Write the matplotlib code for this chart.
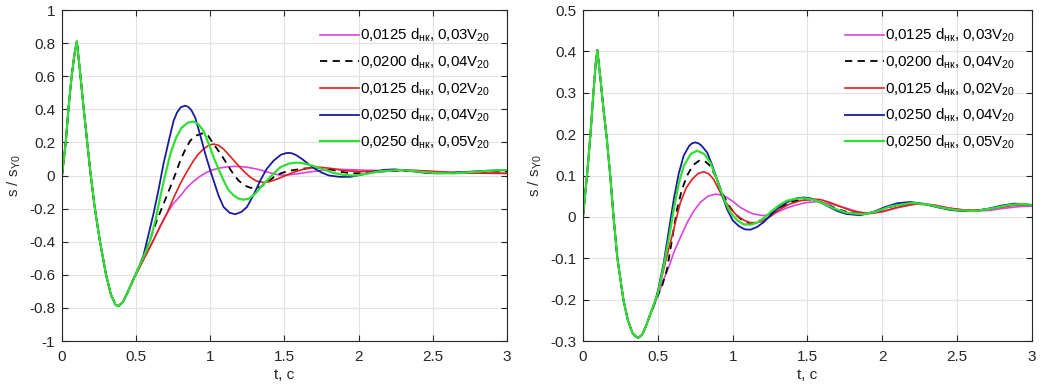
import matplotlib
matplotlib.use("Agg")
import matplotlib.pyplot as plt

plt.rcParams['font.family'] = ['Liberation Sans', 'DejaVu Sans']
plt.rcParams['mathtext.fontset'] = 'custom'
plt.rcParams['mathtext.rm'] = 'Liberation Sans'
plt.rcParams['mathtext.it'] = 'Liberation Sans:italic'
plt.rcParams['axes.unicode_minus'] = False

labels = [r'0,0125 d$_{\mathrm{нк}}$, 0,03V$_{20}$',
          r'0,0200 d$_{\mathrm{нк}}$, 0,04V$_{20}$',
          r'0,0125 d$_{\mathrm{нк}}$, 0,02V$_{20}$',
          r'0,0250 d$_{\mathrm{нк}}$, 0,04V$_{20}$',
          r'0,0250 d$_{\mathrm{нк}}$, 0,05V$_{20}$']

# ---- left panel: common start (t, s/sY0)
tA0 = [0, 0.025, 0.043, 0.065, 0.085, 0.1, 0.12, 0.15, 0.19, 0.22, 0.256, 0.297, 0.33, 0.36, 0.38, 0.41, 0.44, 0.48]
yA0 = [0, 0.2, 0.4, 0.6, 0.74, 0.81, 0.64, 0.37, 0.03, -0.19, -0.4, -0.6, -0.72, -0.78, -0.79, -0.765, -0.71, -0.63]

tA_m = [0.52, 0.56, 0.617, 0.66, 0.707, 0.75, 0.797, 0.84, 0.887, 0.93, 0.977, 1.02, 1.067, 1.11, 1.157, 1.2, 1.247, 1.29, 1.337, 1.38, 1.427, 1.46, 1.494, 1.54, 1.584, 1.66, 1.74, 1.85, 2.01, 2.15, 2.3, 2.45, 2.6, 2.75, 2.9, 3.0]
yA_m = [-0.56, -0.49, -0.39, -0.31, -0.23, -0.17, -0.125, -0.075, -0.035, -0.005, 0.02, 0.035, 0.046, 0.052, 0.055, 0.054, 0.05, 0.043, 0.034, 0.022, 0.01, 0.004, 0.002, 0.005, 0.01, 0.02, 0.03, 0.038, 0.033, 0.03, 0.029, 0.024, 0.018, 0.015, 0.013, 0.013]

tA_k = [0.52, 0.56, 0.6, 0.64, 0.685, 0.73, 0.765, 0.797, 0.83, 0.864, 0.9, 0.95, 0.985, 1.022, 1.07, 1.112, 1.15, 1.19, 1.23, 1.27, 1.31, 1.337, 1.38, 1.427, 1.48, 1.539, 1.63, 1.72, 1.8, 1.88, 1.96, 2.05, 2.15, 2.28, 2.4, 2.52, 2.64, 2.8, 2.9, 3.0]
yA_k = [-0.55, -0.47, -0.37, -0.27, -0.17, -0.07, 0.01, 0.09, 0.155, 0.21, 0.24, 0.255, 0.24, 0.19, 0.13, 0.07, 0.015, -0.03, -0.06, -0.074, -0.075, -0.07, -0.045, -0.01, 0.015, 0.03, 0.042, 0.048, 0.04, 0.022, 0.013, 0.016, 0.024, 0.029, 0.024, 0.018, 0.017, 0.021, 0.024, 0.025]

tA_r = [0.52, 0.56, 0.617, 0.66, 0.707, 0.75, 0.797, 0.84, 0.887, 0.92, 0.954, 0.99, 1.022, 1.055, 1.089, 1.13, 1.179, 1.22, 1.269, 1.31, 1.359, 1.4, 1.449, 1.5, 1.562, 1.62, 1.674, 1.74, 1.82, 1.9, 2.01, 2.15, 2.33, 2.45, 2.6, 2.75, 2.9, 3.0]
yA_r = [-0.56, -0.49, -0.39, -0.31, -0.23, -0.14, -0.05, 0.02, 0.09, 0.13, 0.16, 0.183, 0.19, 0.183, 0.16, 0.12, 0.07, 0.03, -0.01, -0.033, -0.042, -0.037, -0.022, -0.003, 0.02, 0.036, 0.046, 0.05, 0.042, 0.03, 0.023, 0.028, 0.033, 0.028, 0.02, 0.016, 0.014, 0.013]

tA_b = [0.52, 0.55, 0.585, 0.617, 0.65, 0.684, 0.72, 0.752, 0.775, 0.8, 0.83, 0.85, 0.872, 0.898, 0.93, 0.966, 1.0, 1.022, 1.055, 1.089, 1.13, 1.168, 1.21, 1.247, 1.29, 1.337, 1.38, 1.427, 1.475, 1.505, 1.528, 1.55, 1.575, 1.618, 1.66, 1.697, 1.75, 1.8, 1.87, 1.944, 2.02, 2.1, 2.17, 2.236, 2.3, 2.38, 2.45, 2.52, 2.6, 2.7, 2.8, 2.9, 3.0]
yA_b = [-0.55, -0.48, -0.35, -0.23, -0.09, 0.07, 0.21, 0.33, 0.38, 0.412, 0.422, 0.415, 0.395, 0.35, 0.25, 0.13, 0.03, -0.03, -0.12, -0.19, -0.225, -0.234, -0.22, -0.19, -0.12, -0.03, 0.04, 0.09, 0.125, 0.134, 0.137, 0.134, 0.125, 0.10, 0.07, 0.045, 0.018, 0.0, -0.008, -0.008, 0.005, 0.022, 0.034, 0.037, 0.033, 0.024, 0.016, 0.013, 0.015, 0.02, 0.026, 0.03, 0.033]

tA_g = [0.52, 0.56, 0.595, 0.63, 0.662, 0.695, 0.73, 0.77, 0.808, 0.85, 0.887, 0.92, 0.954, 0.99, 1.022, 1.055, 1.089, 1.12, 1.157, 1.19, 1.224, 1.26, 1.303, 1.34, 1.382, 1.43, 1.472, 1.53, 1.58, 1.62, 1.686, 1.75, 1.82, 1.9, 1.97, 2.05, 2.15, 2.28, 2.4, 2.52, 2.64, 2.75, 2.87, 3.0]
yA_g = [-0.55, -0.47, -0.39, -0.27, -0.13, 0.0, 0.13, 0.23, 0.29, 0.32, 0.326, 0.31, 0.27, 0.19, 0.11, 0.04, -0.03, -0.085, -0.12, -0.14, -0.146, -0.14, -0.11, -0.07, -0.03, 0.015, 0.05, 0.072, 0.078, 0.075, 0.06, 0.04, 0.018, 0.003, 0.0, 0.01, 0.026, 0.033, 0.024, 0.015, 0.013, 0.02, 0.028, 0.033]

# ---- right panel: common start
tB0 = [0, 0.027, 0.05, 0.07, 0.085, 0.096, 0.115, 0.14, 0.159, 0.182, 0.204, 0.23, 0.27, 0.3, 0.33, 0.355, 0.37, 0.395, 0.42, 0.45]
yB0 = [0, 0.1, 0.2, 0.3, 0.37, 0.403, 0.34, 0.25, 0.19, 0.1, 0.0, -0.1, -0.2, -0.25, -0.28, -0.29, -0.292, -0.285, -0.265, -0.235]

tB_m = [0.49, 0.54, 0.575, 0.607, 0.65, 0.696, 0.74, 0.784, 0.835, 0.884, 0.925, 0.962, 1.01, 1.051, 1.1, 1.14, 1.207, 1.25, 1.296, 1.35, 1.407, 1.48, 1.562, 1.651, 1.75, 1.84, 1.92, 2.0, 2.1, 2.2, 2.276, 2.36, 2.45, 2.55, 2.63, 2.72, 2.82, 2.92, 3.0]
yB_m = [-0.2, -0.151, -0.12, -0.086, -0.05, -0.014, 0.014, 0.035, 0.05, 0.055, 0.053, 0.047, 0.035, 0.023, 0.013, 0.007, 0.003, 0.006, 0.011, 0.02, 0.027, 0.034, 0.037, 0.032, 0.022, 0.012, 0.008, 0.012, 0.022, 0.03, 0.032, 0.028, 0.021, 0.016, 0.014, 0.016, 0.021, 0.025, 0.026]

tB_k = [0.5, 0.53, 0.562, 0.595, 0.629, 0.66, 0.696, 0.735, 0.78, 0.82, 0.851, 0.89, 0.929, 0.97, 1.007, 1.05, 1.096, 1.14, 1.207, 1.26, 1.318, 1.38, 1.451, 1.51, 1.562, 1.63, 1.7, 1.78, 1.88, 1.97, 2.06, 2.2, 2.32, 2.43, 2.55, 2.65, 2.78, 2.9, 3.0]
yB_k = [-0.19, -0.165, -0.126, -0.055, 0.019, 0.065, 0.1, 0.125, 0.137, 0.133, 0.123, 0.095, 0.059, 0.03, 0.011, -0.004, -0.014, -0.015, -0.005, 0.009, 0.023, 0.035, 0.041, 0.042, 0.039, 0.03, 0.019, 0.01, 0.007, 0.014, 0.025, 0.033, 0.028, 0.02, 0.015, 0.016, 0.024, 0.03, 0.029]

tB_r = [0.49, 0.518, 0.55, 0.584, 0.62, 0.651, 0.69, 0.729, 0.77, 0.807, 0.84, 0.873, 0.905, 0.94, 0.985, 1.029, 1.075, 1.118, 1.16, 1.207, 1.26, 1.318, 1.38, 1.451, 1.52, 1.584, 1.65, 1.72, 1.8, 1.9, 2.0, 2.1, 2.22, 2.33, 2.45, 2.56, 2.66, 2.78, 2.9, 3.0]
yB_r = [-0.195, -0.159, -0.11, -0.062, -0.01, 0.035, 0.07, 0.091, 0.105, 0.109, 0.104, 0.091, 0.068, 0.043, 0.02, 0.003, -0.008, -0.014, -0.014, -0.01, 0.003, 0.019, 0.031, 0.039, 0.043, 0.042, 0.035, 0.025, 0.014, 0.008, 0.013, 0.023, 0.031, 0.029, 0.021, 0.016, 0.017, 0.023, 0.029, 0.029]

tB_b = [0.473, 0.5, 0.54, 0.575, 0.607, 0.64, 0.673, 0.71, 0.73, 0.751, 0.77, 0.79, 0.829, 0.86, 0.896, 0.93, 0.962, 1.0, 1.04, 1.08, 1.118, 1.16, 1.207, 1.25, 1.296, 1.34, 1.384, 1.43, 1.473, 1.52, 1.562, 1.61, 1.651, 1.7, 1.76, 1.853, 1.94, 2.02, 2.1, 2.187, 2.27, 2.36, 2.45, 2.53, 2.61, 2.7, 2.79, 2.878, 2.95, 3.0]
yB_b = [-0.215, -0.18, -0.11, -0.03, 0.043, 0.105, 0.148, 0.172, 0.178, 0.18, 0.178, 0.173, 0.156, 0.128, 0.091, 0.052, 0.019, -0.008, -0.022, -0.03, -0.031, -0.025, -0.013, 0.003, 0.019, 0.031, 0.039, 0.045, 0.047, 0.045, 0.039, 0.031, 0.023, 0.014, 0.007, 0.004, 0.012, 0.024, 0.033, 0.036, 0.032, 0.024, 0.017, 0.014, 0.014, 0.019, 0.027, 0.032, 0.031, 0.028]

tB_g = [0.5, 0.54, 0.575, 0.607, 0.64, 0.673, 0.72, 0.762, 0.81, 0.851, 0.885, 0.918, 0.95, 0.984, 1.03, 1.073, 1.12, 1.162, 1.21, 1.251, 1.31, 1.362, 1.42, 1.473, 1.52, 1.562, 1.62, 1.68, 1.76, 1.87, 1.96, 2.05, 2.2, 2.3, 2.4, 2.5, 2.62, 2.72, 2.85, 2.93, 3.0]
yB_g = [-0.185, -0.118, -0.05, 0.019, 0.08, 0.123, 0.152, 0.16, 0.152, 0.131, 0.1, 0.067, 0.036, 0.011, -0.008, -0.018, -0.019, -0.014, -0.003, 0.011, 0.028, 0.039, 0.044, 0.045, 0.043, 0.039, 0.03, 0.02, 0.01, 0.006, 0.013, 0.025, 0.034, 0.03, 0.022, 0.016, 0.014, 0.02, 0.029, 0.031, 0.029]

colors = ['#dd44dd', 'black', '#e02020', '#1a1aa0', '#30e030']
styles = ['-', '--', '-', '-', '-']
widths = [1.2, 1.3, 1.2, 1.3, 1.6]

panels = [
    (tA0, yA0, [(tA_m, yA_m), (tA_k, yA_k), (tA_r, yA_r), (tA_b, yA_b), (tA_g, yA_g)],
     (-1, 1), [-1, -0.8, -0.6, -0.4, -0.2, 0, 0.2, 0.4, 0.6, 0.8, 1],
     ['-1', '-0.8', '-0.6', '-0.4', '-0.2', '0', '0.2', '0.4', '0.6', '0.8', '1']),
    (tB0, yB0, [(tB_m, yB_m), (tB_k, yB_k), (tB_r, yB_r), (tB_b, yB_b), (tB_g, yB_g)],
     (-0.3, 0.5), [-0.3, -0.2, -0.1, 0, 0.1, 0.2, 0.3, 0.4, 0.5],
     ['-0.3', '-0.2', '-0.1', '0', '0.1', '0.2', '0.3', '0.4', '0.5']),
]

fig = plt.figure(figsize=(10.44, 3.88), dpi=100)
axes = [fig.add_axes([0.0594, 0.1211, 0.4262, 0.8531]),
        fig.add_axes([0.5584, 0.1211, 0.4301, 0.8531])]

for ax, (t0, y0, series, ylim, yticks, ytl) in zip(axes, panels):
    for i, (ts, ys) in enumerate(series):
        ax.plot(t0 + ts, y0 + ys, color=colors[i], ls=styles[i], lw=widths[i],
                label=labels[i], dashes=(4, 3) if styles[i] == '--' else (None, None))
    ax.set_xlim(0, 3)
    ax.set_ylim(*ylim)
    ax.set_xticks([0, 0.5, 1, 1.5, 2, 2.5, 3])
    ax.set_xticklabels(['0', '0.5', '1', '1.5', '2', '2.5', '3'])
    ax.set_yticks(yticks)
    ax.set_yticklabels(ytl)
    ax.grid(True, color='#e2e2e2', lw=0.8)
    ax.set_axisbelow(True)
    ax.tick_params(direction='in', top=True, right=True, length=4, width=0.8,
                   labelsize=11, colors='#262626')
    ax.tick_params(axis='x', pad=6.5)
    ax.tick_params(axis='y', pad=5)
    for s in ax.spines.values():
        s.set_color('#262626')
        s.set_linewidth(0.8)
    ax.set_xlabel('t, c', fontsize=11, color='#262626', labelpad=3)
    ax.set_ylabel(r's / s$_{\mathrm{Y0}}$', fontsize=11, color='#262626', labelpad=4)
    ax.legend(loc='upper right', frameon=False, fontsize=10.8, handlelength=2.6,
              handletextpad=0.05, labelspacing=0.62, borderaxespad=0.0,
              bbox_to_anchor=(0.975, 0.967))

fig.savefig('out.png', dpi=100)
